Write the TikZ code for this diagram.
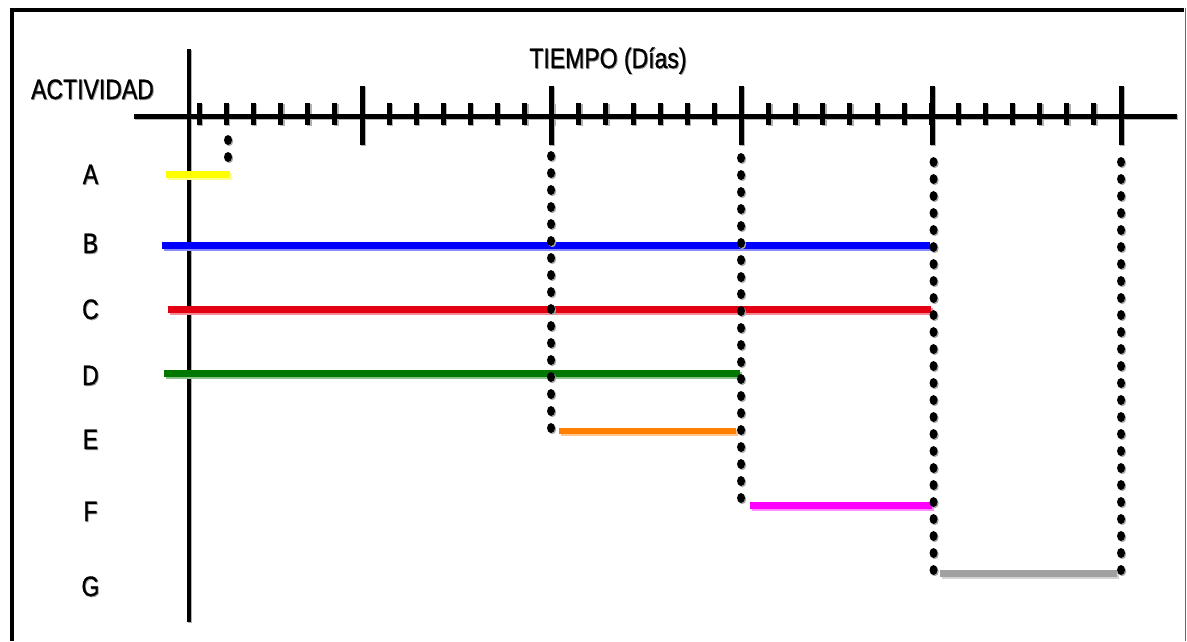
\documentclass[tikz,border=0pt]{standalone}
\usepackage{fontspec}
\setmainfont{Liberation Sans}
\newfontfamily\lblfont[FakeBold=1]{Liberation Sans}
\definecolor{barA}{RGB}{255,255,0}
\definecolor{barB}{RGB}{0,0,255}
\definecolor{barC}{RGB}{226,0,18}
\definecolor{barD}{RGB}{0,120,0}
\definecolor{barE}{RGB}{255,128,0}
\definecolor{barF}{RGB}{255,0,255}
\definecolor{barG}{RGB}{160,160,160}
\begin{document}
\begin{tikzpicture}[x=1pt,y=-1pt,
  lbl/.style={font=\lblfont\fontsize{23}{27}\selectfont, inner sep=0pt, anchor=base},
  lblshadow/.style={lbl, text=black!40},
  axisline/.style={line width=5pt},
  vaxis/.style={line width=4pt},
  majortick/.style={line width=5pt},
  minortick/.style={line width=5pt},
  barline/.style={line width=6.5pt},
]
\useasboundingbox (0,0) rectangle (1187,641);
% frame
\draw[line width=4pt, line join=miter] (12,641) -- (12,10) -- (1184,10);
\draw[black!60, line width=1pt] (1185.5,8) -- (1185.5,641);

% axes and ticks, with a light shadow pass first
\foreach \d/\c in {1.4/black!30, 0/black} {
  \begin{scope}[shift={(\d,\d)}]
    \draw[\c, axisline] (134,116) -- (1177,116);
    \draw[\c, vaxis] (189,49) -- (189,622);
    \foreach \n in {-6,...,28}
      \draw[\c, minortick] ({362+27.107*\n},103) -- ++(0,22);
    \foreach \x in {362,551,741,932,1121}
      \draw[\c, majortick] (\x,86) -- (\x,145);
  \end{scope}
}

% bars (light shadow strip, then bar)
\foreach \col/\xa/\xb/\y in {barA/166/230/174.5, barB/162/930/245.5, barC/168/931/309.5,
                             barD/164/740/373.5, barE/559/736/431, barF/750/932/505.5,
                             barG/940/1117/573.5} {
  \draw[\col!45, barline] ({\xa+1.5},{\y+2}) -- ({\xb+1.5},{\y+2});
  \draw[\col, barline] (\xa,\y) -- (\xb,\y);
}

% dotted guide columns
\foreach \d/\c in {1.2/black!35, 0/black} {
  \begin{scope}[shift={(\d,\d)}]
    \foreach \x/\ya/\m in {228/140/1, 551/156/16, 741/158/20, 933.5/162/24, 1121/162/24}
      \foreach \k in {0,...,\m}
        \fill[\c] (\x,{\ya+17*\k}) ellipse [x radius=4, y radius=5];
  \end{scope}
}

% labels (soft shadow copy, then text)
\foreach \nm/\x/\y/\t in {act/92.5/99/ACTIVIDAD, tiempo/608/68/{TIEMPO (Días)},
                          la/90.5/184/A, lb/90.5/253/B, lc/90.5/319/C, ld/90.5/385/D,
                          le/90.5/449/E, lf/90.5/521/F, lg/90.5/596/G} {
  \node[lblshadow] (\nm s) at ({\x+0.9},{\y+0.9}) {\scalebox{1}[1.22]{\t}};
  \node[lbl] (\nm) at (\x,\y) {\scalebox{1}[1.22]{\t}};
}
\end{tikzpicture}
\end{document}
